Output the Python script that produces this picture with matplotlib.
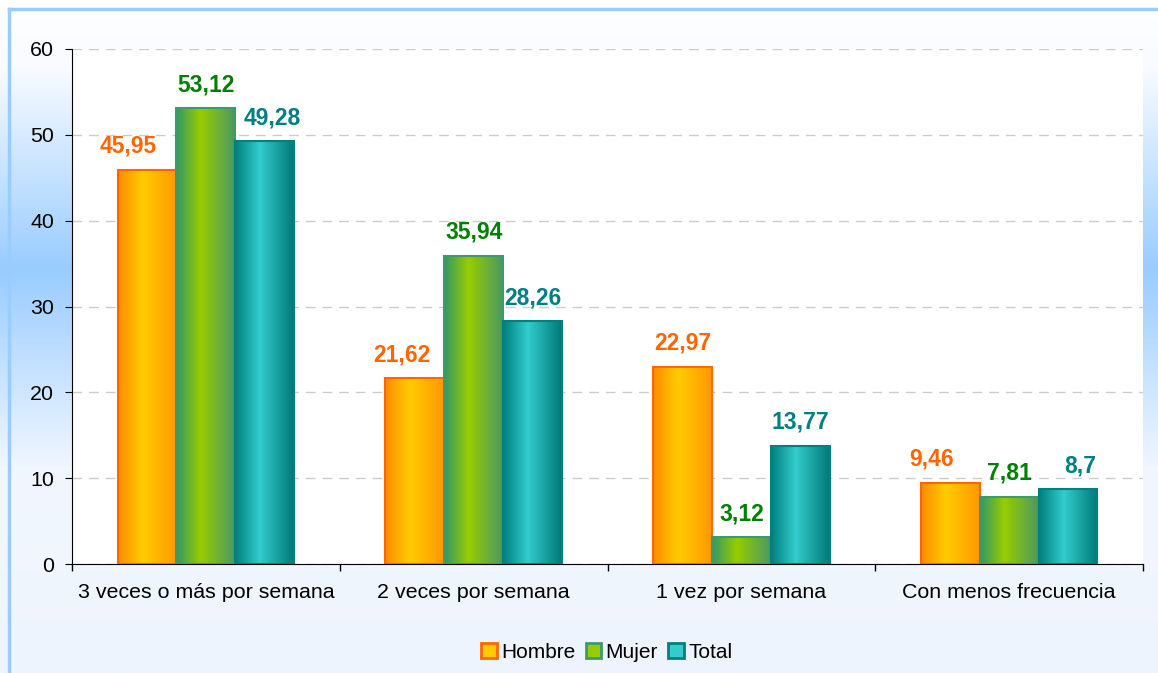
import numpy as np
import matplotlib
matplotlib.use("Agg")
import matplotlib.pyplot as plt
from matplotlib.colors import LinearSegmentedColormap
from matplotlib.patches import Patch
from matplotlib.lines import Line2D

plt.rcParams['font.family'] = ['Liberation Sans', 'DejaVu Sans']

categories = ['3 veces o más por semana', '2 veces por semana',
              '1 vez por semana', 'Con menos frecuencia']
series = ['Hombre', 'Mujer', 'Total']
hombre = [45.95, 21.62, 22.97, 9.46]
mujer = [53.12, 35.94, 3.12, 7.81]
total = [49.28, 28.26, 13.77, 8.7]
labels_hombre = ['45,95', '21,62', '22,97', '9,46']
labels_mujer = ['53,12', '35,94', '3,12', '7,81']
labels_total = ['49,28', '28,26', '13,77', '8,7']

values = [hombre, mujer, total]
labels = [labels_hombre, labels_mujer, labels_total]

# gradient stops (edge, centre, edge), outline colour, label colour
grads = [['#ff8c00', '#ffcc00', '#ff9900'],
         ['#339966', '#99cc00', '#4a9a62'],
         ['#008080', '#33cccc', '#007a7a']]
edges = ['#ff6600', '#3d9a6a', '#008080']
text_colors = ['#ff6600', '#008000', '#008080']
# small sideways nudges (pixels) so labels clear the neighbouring bars
nudge = [[-19, -13, 0, -19], [0, 0, 0, 0], [7, 0, 0, 12]]

fig = plt.figure(figsize=(11.58, 6.73), dpi=100)

# figure background: vertical blue gradient
bg = fig.add_axes([0, 0, 1, 1], zorder=-10)
bg_cmap = LinearSegmentedColormap.from_list(
    'bg', [(0.0, '#ffffff'), (0.10, '#f8fbff'), (0.40, '#99ccff'),
           (0.70, '#f2f7ff'), (1.0, '#eef4fd')])
bg.imshow(np.linspace(0, 1, 256).reshape(-1, 1), cmap=bg_cmap, aspect='auto',
          extent=[0, 1, 0, 1], origin='upper')
bg.set_axis_off()

# light blue border on top and left
fig.add_artist(Line2D([9 / 1158, 1], [1 - 9 / 673, 1 - 9 / 673],
                      color='#99ccff', lw=2.5, transform=fig.transFigure))
fig.add_artist(Line2D([9 / 1158, 9 / 1158], [0, 1 - 9 / 673],
                      color='#99ccff', lw=2.5, transform=fig.transFigure))

ax = fig.add_axes([72 / 1158, 1 - 564 / 673, (1143 - 72) / 1158, (564 - 49) / 673])
ax.set_facecolor('white')

x = np.arange(len(categories))
w = 0.22
for i, (vals, lab) in enumerate(zip(values, labels)):
    bars = ax.bar(x + (i - 1) * w, vals, w, facecolor='none',
                  edgecolor=edges[i], linewidth=1.5, zorder=3, label=series[i])
    cmap = LinearSegmentedColormap.from_list(
        series[i], [(0, grads[i][0]), (0.42, grads[i][1]), (1, grads[i][2])])
    for b in bars:
        bx, bw, bh = b.get_x(), b.get_width(), b.get_height()
        ax.imshow(np.linspace(0, 1, 64).reshape(1, -1), cmap=cmap,
                  aspect='auto', extent=[bx, bx + bw, 0, bh], zorder=2)
    for j, (b, t) in enumerate(zip(bars, lab)):
        ax.annotate(t, (b.get_x() + b.get_width() / 2, b.get_height()),
                    xytext=(nudge[i][j], 12), textcoords='offset pixels',
                    ha='center', va='bottom', fontsize=16.5,
                    fontweight='bold', color=text_colors[i])

ax.set_xlim(-0.5, 3.5)
ax.set_ylim(0, 60)
ax.set_yticks(range(0, 61, 10))
ax.set_xticks(x)
ax.set_xticklabels(categories)
ax.set_xticks(np.arange(-0.5, 4, 1), minor=True)
ax.tick_params(axis='x', which='major', length=0, pad=14, labelsize=15.4)
ax.tick_params(axis='x', which='minor', length=5, direction='out', width=1)
ax.tick_params(axis='y', length=5, direction='out', pad=8, labelsize=15.4)
ax.yaxis.grid(True, color='#cccccc', linestyle=(0, (7, 5)), linewidth=1)
ax.set_axisbelow(True)
for s in ['top', 'right']:
    ax.spines[s].set_visible(False)
ax.spines['left'].set_color('black')
ax.spines['bottom'].set_color('black')

handles = [Patch(facecolor=grads[i][1], edgecolor=edges[i], linewidth=2)
           for i in range(3)]
fig.legend(handles, series, loc='center', bbox_to_anchor=(0.524, 0.031),
           ncol=3, frameon=False, fontsize=15, handlelength=0.75,
           handleheight=0.75, handletextpad=0.2, columnspacing=0.5)

fig.savefig('out.png', dpi=100)
